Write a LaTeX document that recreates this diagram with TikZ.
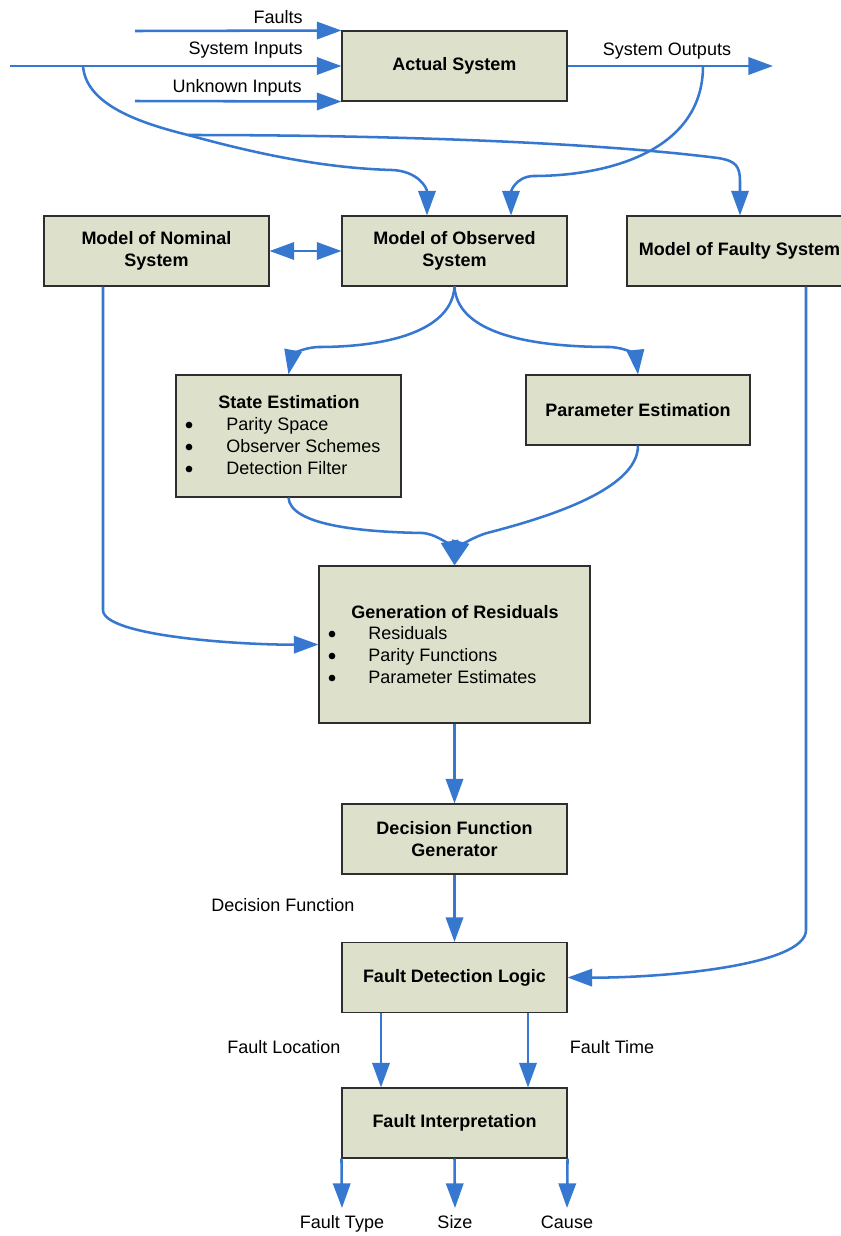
\documentclass[tikz,border=0pt]{standalone}
\usepackage{fontspec}
\setmainfont{Liberation Sans}
\usetikzlibrary{arrows.meta,calc}
\definecolor{boxfill}{HTML}{DDE1CB}
\definecolor{boxline}{HTML}{2E2E2E}
\definecolor{flow}{HTML}{3677D0}
\begin{document}
\begin{tikzpicture}[x=0.75pt,y=-0.75pt,
  box/.style={draw=boxline,line width=0.8pt,fill=boxfill,minimum width=168.75pt,minimum height=52.5pt,
    inner sep=0pt,align=center,font=\fontsize{13.5}{16.5}\selectfont\bfseries},
  lbl/.style={font=\fontsize{13.5}{16.5}\selectfont,inner sep=0pt},
  ttl/.style={font=\fontsize{13.5}{16.5}\selectfont\bfseries,inner sep=0pt},
  dot/.style={fill=black,circle,inner sep=0pt,minimum size=5pt},
  arr/.style={draw=flow,line width=1.9pt,-{Triangle[length=18.5pt,width=13pt]}},
  arrb/.style={draw=flow,line width=1.9pt,{Triangle[length=18.5pt,width=13pt]}-{Triangle[length=18.5pt,width=13pt]}}]
\useasboundingbox (0,0) rectangle (841,1236);
\fill[white] (0,0) rectangle (841,1236);

% boxes
\node[box] (act) at (454.5,66) {Actual System};
\node[box] (nom) at (156.5,251) {Model of Nominal\\System};
\node[box] (obs) at (454.5,251) {Model of Observed\\System};
\node[box] (fau) at (739.5,251) {Model of Faulty System};
\node[box,minimum height=91.5pt] (se) at (288.5,436) {};
\node[box,minimum width=168pt] (pe) at (638,410) {Parameter Estimation};
\node[box,minimum width=203.25pt,minimum height=117.75pt] (gr) at (454.5,644.5) {};
\node[box] (dfg) at (454.5,839) {Decision Function\\Generator};
\node[box] (fdl) at (454.5,977.5) {Fault Detection Logic};
\node[box] (fi) at (454.5,1123) {Fault Interpretation};

% box contents
\node[ttl,anchor=base] (set) at (289,408) {State Estimation};
\node[dot] (seb1) at (189,425) {};
\node[dot] (seb2) at (189,447) {};
\node[dot] (seb3) at (189,469) {};
\node[lbl,anchor=base west] (se1) at (226,430) {Parity Space};
\node[lbl,anchor=base west] (se2) at (226,452) {Observer Schemes};
\node[lbl,anchor=base west] (se3) at (226,474) {Detection Filter};
\node[ttl,anchor=base] (grt) at (455,618) {Generation of Residuals};
\node[dot] (grb1) at (332,634) {};
\node[dot] (grb2) at (332,656) {};
\node[dot] (grb3) at (332,678) {};
\node[lbl,anchor=base west] (gr1) at (368,639) {Residuals};
\node[lbl,anchor=base west] (gr2) at (368,661) {Parity Functions};
\node[lbl,anchor=base west] (gr3) at (368,683) {Parameter Estimates};

% labels
\node[lbl,anchor=base east] (lf) at (303,23) {Faults};
\node[lbl,anchor=base east] (lsi) at (303,54) {System Inputs};
\node[lbl,anchor=base east] (lui) at (302,92) {Unknown Inputs};
\node[lbl,anchor=base] (lso) at (667,55) {System Outputs};
\node[lbl,anchor=base] (ldf) at (283,911) {Decision Function};
\node[lbl,anchor=base] (lfl) at (284,1053) {Fault Location};
\node[lbl,anchor=base] (lft) at (612,1053) {Fault Time};
\node[lbl,anchor=base] (lty) at (342,1228) {Fault Type};
\node[lbl,anchor=base] (lsz) at (455,1228) {Size};
\node[lbl,anchor=base] (lca) at (567,1228) {Cause};

% free ends
\coordinate (fin) at (135,31);
\coordinate (sin) at (10,66);
\coordinate (uin) at (135,101);
\coordinate (sout) at (773,66);
\coordinate (br1) at (83,66);
\coordinate (br2) at (188,135);
\coordinate (br3) at (703,66);

% top inputs
\draw[arr] (fin) -- (act.north west);
\draw[arr] (sin) -- (act.west);
\draw[arr] (uin) -- (act.south west);
\draw[arr] (act.east) -- (sout);

% curves to models
\draw[arr] (br1) .. controls (86,105) and (140,123) .. (br2)
  .. controls (250,152) and (320,168) .. (392,170)
  .. controls (418,171) and (427,188) .. ($(obs.north)+(-27.5,0)$);
\draw[arr] (br2) .. controls (400,135) and (600,143) .. (718,158)
  .. controls (736,161) and (740,166) .. (740,182) -- (fau.north -| 740,0);
\draw[arr] (br3) .. controls (703,150) and (610,176) .. (533,176)
  .. controls (515,177) and (511,192) .. ($(obs.north)+(56.5,0)$);

\draw[arrb] (nom.east) -- (obs.west);

% observed to estimations
\draw[arr] (obs.south) .. controls (452,330) and (390,347) .. (318,347)
  .. controls (300,348) and (292,356) .. (se.north);
\draw[arr] (obs.south) .. controls (457,330) and (520,347) .. (610,347)
  .. controls (628,348) and (636,356) .. (pe.north);

% estimations to residuals
\draw[arr] (se.south) .. controls (290,525) and (360,532) .. (423,533)
  .. controls (440,535) and (451,548) .. (gr.north);
\draw[arr] (pe.south) .. controls (638,490) and (545,518) .. (487,533)
  .. controls (470,538) and (459,548) .. (gr.north);

% nominal to residuals
\draw[arr] (nom.south -| 103,0) -- (103,610) .. controls (103,636) and (240,645) .. (gr.west);

% chain
\draw[arr] (gr.south) -- (dfg.north);
\draw[arr] (dfg.south) -- (fdl.north);

% faulty to FDL
\draw[arr] (fau.south -| 806,0) -- (806,930) .. controls (806,966) and (660,978) .. (fdl.east);

% FDL to FI
\draw[arr] (fdl.south -| 381,0) -- (fi.north -| 381,0);
\draw[arr] (fdl.south -| 528,0) -- (fi.north -| 528,0);

% outputs of FI
\draw[arr] (fi.south west) -- (342,1208);
\draw[arr] (fi.south) -- (455,1208);
\draw[arr] (fi.south east) -- (567,1208);
\end{tikzpicture}
\end{document}
